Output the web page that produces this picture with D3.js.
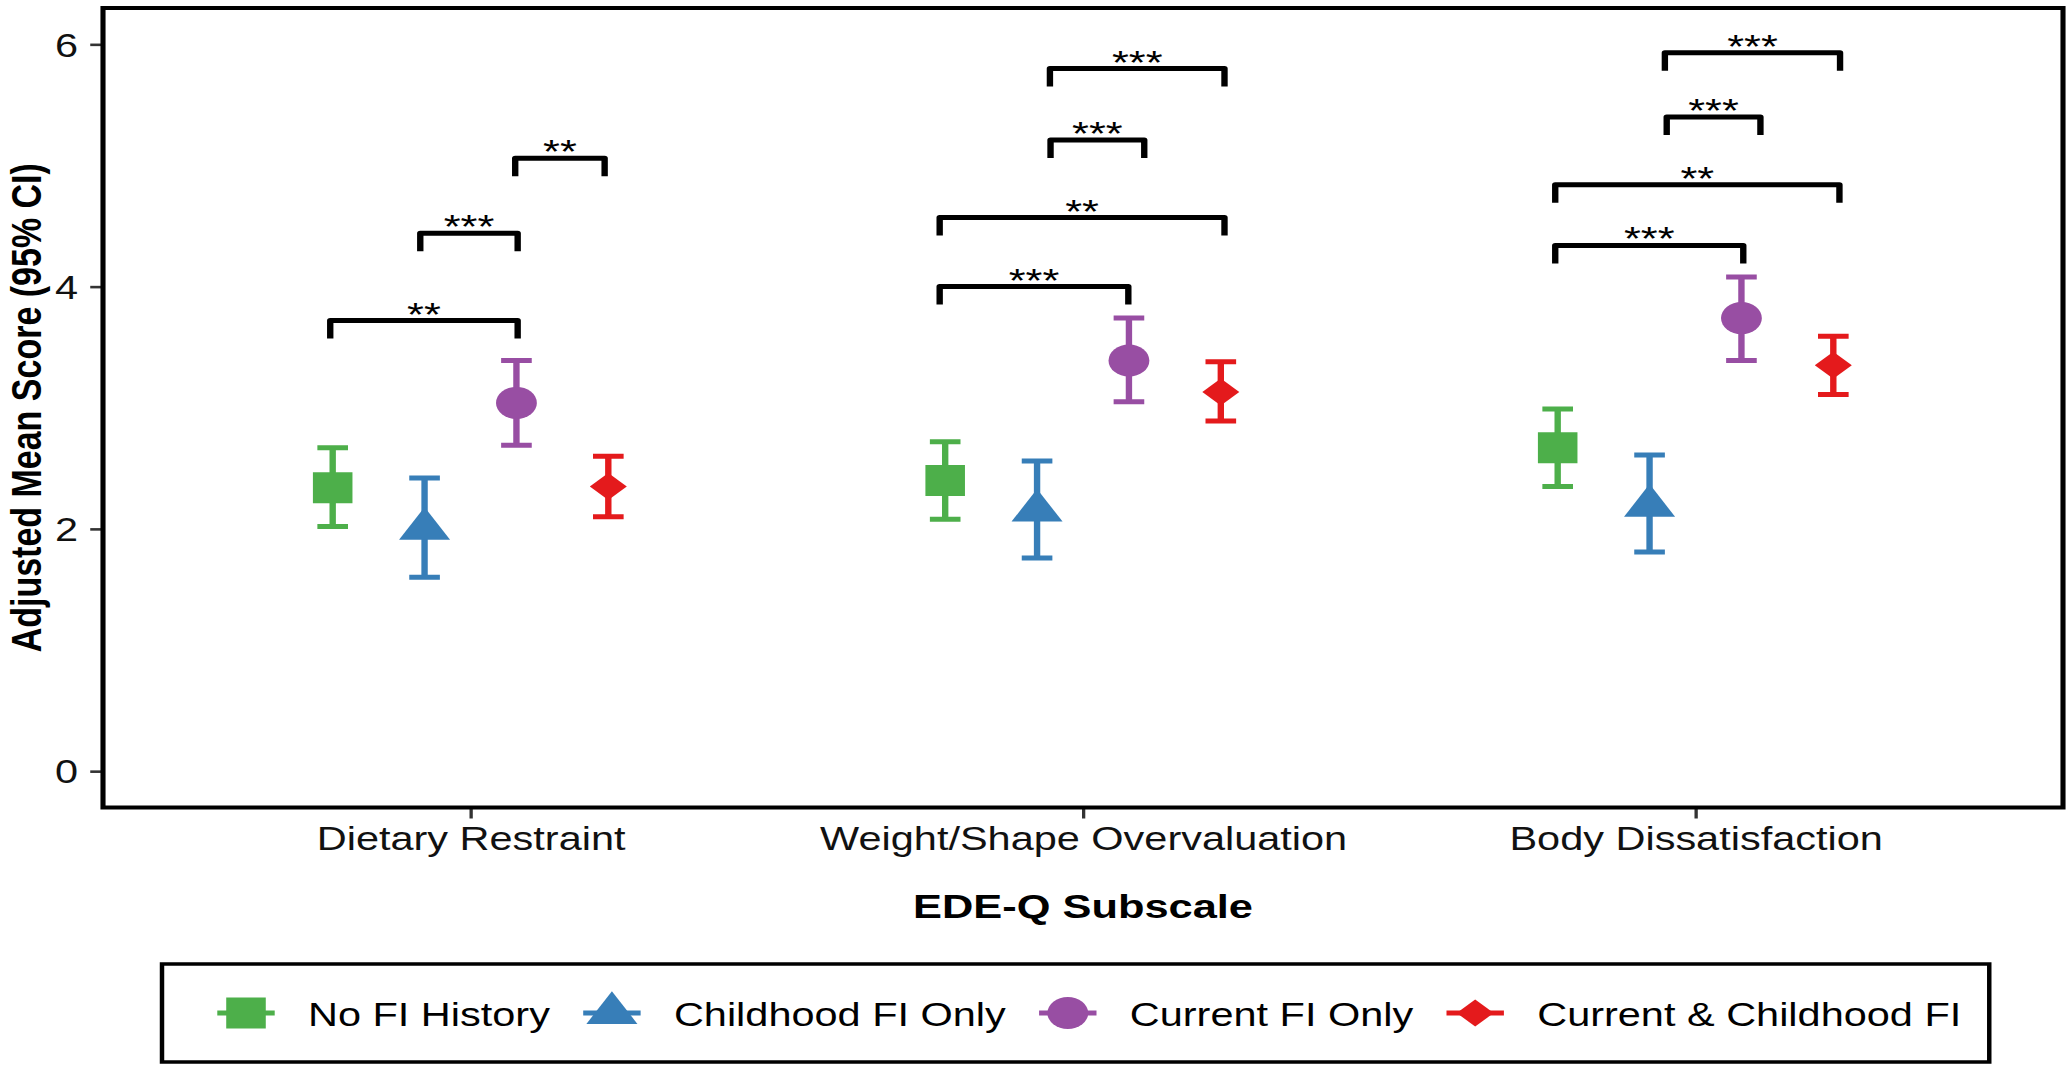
<!DOCTYPE html>
<html>
<head>
<meta charset="utf-8">
<script src="https://cdn.jsdelivr.net/npm/d3@7"></script>
<style>
  html, body { margin: 0; padding: 0; background: #fff; }
  svg { display: block; }
  text { font-family: "Liberation Sans", Arial, Helvetica, sans-serif; }
</style>
</head>
<body>
<svg id="chart"></svg>
<script>
// ---------------- data ----------------
const subscales = ["Dietary Restraint", "Weight/Shape Overvaluation", "Body Dissatisfaction"];
const groups = ["No FI History", "Childhood FI Only", "Current FI Only", "Current & Childhood FI"];
const groupColors = ["#4DAF4A", "#377EB8", "#984EA3", "#E41A1C"];
const groupShapes = ["square", "triangle", "circle", "diamond"];

const noFIMean      = [2.34, 2.40, 2.67];
const noFILower     = [2.02, 2.08, 2.35];
const noFIUpper     = [2.67, 2.72, 2.99];
const childFIMean   = [2.00, 2.15, 2.19];
const childFILower  = [1.60, 1.76, 1.81];
const childFIUpper  = [2.42, 2.56, 2.61];
const currentFIMean = [3.04, 3.39, 3.74];
const currentFILower= [2.69, 3.05, 3.39];
const currentFIUpper= [3.39, 3.74, 4.08];
const bothFIMean    = [2.35, 3.13, 3.35];
const bothFILower   = [2.10, 2.89, 3.11];
const bothFIUpper   = [2.60, 3.38, 3.59];

const yTicks = [0, 2, 4, 6];

// significance brackets (ends given relative to the subscale centre, in category units)
const bracketSubscale = [0, 0, 0, 1, 1, 1, 1, 2, 2, 2, 2];
const bracketStart    = [-0.229, -0.082, 0.073, -0.234, -0.234, -0.053, -0.054, -0.229, -0.229, -0.047, -0.050];
const bracketEnd      = [0.077, 0.077, 0.219, 0.074, 0.231, 0.100, 0.231, 0.078, 0.235, 0.106, 0.236];
const bracketY        = [3.72, 4.44, 5.06, 4.00, 4.57, 5.21, 5.80, 4.34, 4.84, 5.40, 5.93];
const bracketLabel    = ["**", "***", "**", "***", "**", "***", "***", "***", "**", "***", "***"];

const means  = [noFIMean, childFIMean, currentFIMean, bothFIMean];
const lowers = [noFILower, childFILower, currentFILower, bothFILower];
const uppers = [noFIUpper, childFIUpper, currentFIUpper, bothFIUpper];

// ---------------- layout ----------------
const W = 2070, H = 1069;
const S = 1.276;              // horizontal stretch of the reference picture
const Wi = W / S;
const px = v => v / S;        // full-pixel horizontal -> internal

const svg = d3.select("#chart")
  .attr("width", W).attr("height", H)
  .attr("viewBox", `0 0 ${Wi} ${H}`)
  .attr("preserveAspectRatio", "none");

const pLeft = px(103), pRight = px(2063), pTop = 8, pBottom = 807.5;
const FS = 32.5;

const x = d3.scalePoint().domain(subscales).range([pLeft, pRight]).padding(0.6);
const step = x.step();
const dodge = d3.scalePoint().domain(groups).range([-0.225, 0.225]);
const y = d3.scaleLinear().domain([-0.3, 6.3]).range([pBottom, pTop]);

function shapePath(kind, cx, cy) {
  const p = d3.path();
  if (kind === "square") {
    p.rect(cx - 15.5, cy - 15.5, 31, 31);
  } else if (kind === "circle") {
    p.arc(cx, cy, 16, 0, 2 * Math.PI);
  } else if (kind === "triangle") {
    const r = 21.8;
    p.moveTo(cx, cy - r); p.lineTo(cx + 20, cy + r / 2); p.lineTo(cx - 20, cy + r / 2); p.closePath();
  } else {
    p.moveTo(cx, cy - 13.5); p.lineTo(cx + 14.5, cy); p.lineTo(cx, cy + 13.5); p.lineTo(cx - 14.5, cy); p.closePath();
  }
  return p.toString();
}

// axes
const yAxis = d3.axisLeft(y).tickValues(yTicks).tickSize(10).tickPadding(9.6).tickFormat(d3.format("d"));
const gy = svg.append("g").attr("transform", `translate(${pLeft},0)`).call(yAxis);
gy.select(".domain").remove();
gy.selectAll(".tick line").attr("stroke", "#333").attr("stroke-width", 2.6);
gy.selectAll(".tick text").attr("font-size", FS).attr("fill", "#111")
  .attr("font-family", "Liberation Sans, Arial, sans-serif").attr("dy", "0.36em");

const xAxis = d3.axisBottom(x).tickSize(11).tickPadding(8.4);
const gx = svg.append("g").attr("transform", `translate(0,${pBottom})`).call(xAxis);
gx.select(".domain").remove();
gx.selectAll(".tick line").attr("stroke", "#333").attr("stroke-width", 2.6);
gx.selectAll(".tick text").attr("font-size", FS).attr("fill", "#111")
  .attr("font-family", "Liberation Sans, Arial, sans-serif");

// panel border
svg.append("rect").attr("x", pLeft).attr("y", pTop).attr("width", pRight - pLeft).attr("height", pBottom - pTop)
  .attr("fill", "none").attr("stroke", "#000").attr("stroke-width", 4);

// axis titles
svg.append("text").attr("x", (pLeft + pRight) / 2).attr("y", 918)
  .attr("text-anchor", "middle").attr("font-size", 34).attr("font-weight", "bold")
  .text("EDE-Q Subscale");
svg.append("text").attr("transform", `translate(${px(41)},${(pTop + pBottom) / 2}) rotate(-90)`)
  .attr("text-anchor", "middle").attr("font-size", 34).attr("font-weight", "bold")
  .text("Adjusted Mean Score (95% CI)");

// error bars + points
const capHalf = 0.025 * step;
groups.forEach((g, gi) => {
  const grp = svg.append("g");
  subscales.forEach((sc, si) => {
    const cx = x(sc) + dodge(g) * step;
    grp.append("path")
      .attr("d", `M${cx - capHalf},${y(uppers[gi][si])}H${cx + capHalf}M${cx},${y(uppers[gi][si])}V${y(lowers[gi][si])}M${cx - capHalf},${y(lowers[gi][si])}H${cx + capHalf}`)
      .attr("fill", "none").attr("stroke", groupColors[gi]).attr("stroke-width", 5);
    grp.append("path").attr("d", shapePath(groupShapes[gi], cx, y(means[gi][si])))
      .attr("fill", groupColors[gi]);
  });
});

// significance brackets
const tip = 18;
bracketLabel.forEach((lab, i) => {
  const cx = x(subscales[bracketSubscale[i]]);
  const x1 = cx + bracketStart[i] * step, x2 = cx + bracketEnd[i] * step;
  const yy = y(bracketY[i]);
  svg.append("path")
    .attr("d", `M${x1},${yy + tip}L${x1},${yy}L${x2},${yy}L${x2},${yy + tip}`)
    .attr("fill", "none").attr("stroke", "#000").attr("stroke-width", 5)
    .attr("stroke-linejoin", "round");
  svg.append("text").attr("x", (x1 + x2) / 2).attr("y", yy + 5)
    .attr("text-anchor", "middle").attr("font-size", 34).text(lab);
});

// legend
const legY = 1013;
const legend = svg.append("g");
let cursor = px(246);
let lastEnd = 0;
groups.forEach((g, gi) => {
  const cx = cursor;
  legend.append("line").attr("x1", cx - 22.5).attr("x2", cx + 22.5).attr("y1", legY).attr("y2", legY)
    .attr("stroke", groupColors[gi]).attr("stroke-width", 5);
  legend.append("path").attr("d", shapePath(groupShapes[gi], cx, legY)).attr("fill", groupColors[gi]);
  const t = legend.append("text").attr("x", cx + px(62)).attr("y", 1026).attr("font-size", FS).text(g);
  const w = t.node().getComputedTextLength();
  lastEnd = cx + px(62) + w;
  cursor = lastEnd + px(62);
});
legend.insert("rect", ":first-child")
  .attr("x", px(162)).attr("y", 964).attr("width", lastEnd + px(28) - px(162)).attr("height", 98)
  .attr("fill", "#fff").attr("stroke", "#000").attr("stroke-width", 3.5);
</script>
</body>
</html>
